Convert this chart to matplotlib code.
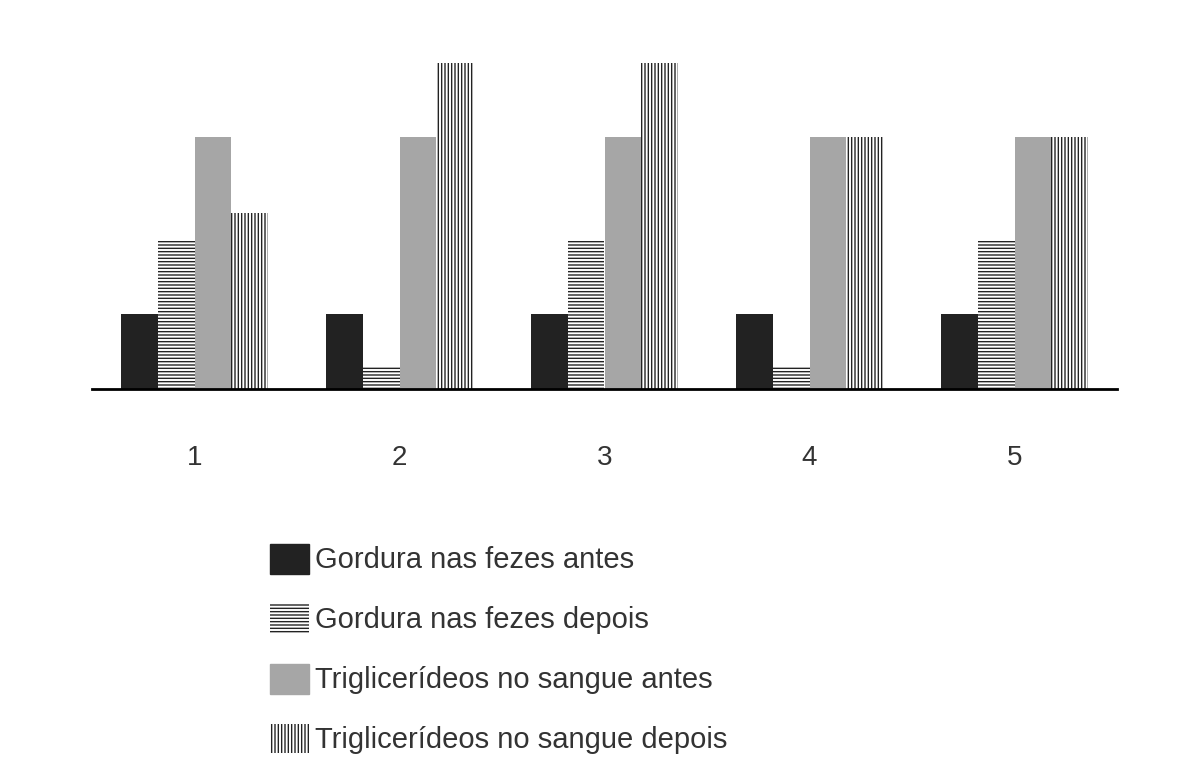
import matplotlib
matplotlib.use('Agg')
import matplotlib.pyplot as plt
import numpy as np
from matplotlib.patches import Patch

groups = ['1', '2', '3', '4', '5']
fat_before = [1.0, 1.0, 1.0, 1.0, 1.0]
fat_after = [1.98, 0.3, 1.98, 0.3, 1.98]
tg_before = [3.36, 3.36, 3.36, 3.36, 3.36]
tg_after = [2.35, 4.35, 4.35, 3.36, 3.36]
labels = ['Gordura nas fezes antes', 'Gordura nas fezes depois',
          'Triglicerídeos no sangue antes', 'Triglicerídeos no sangue depois']

plt.rcParams['font.family'] = ['Liberation Sans', 'DejaVu Sans']
plt.rcParams['hatch.linewidth'] = 1.0

fig = plt.figure(figsize=(12, 7.84), dpi=100)
ax = fig.add_axes([92/1200, 1 - 389/784, 1025/1200, 340/784])

x = np.arange(len(groups))
w = 0.18
styles = [dict(color='#222222'),
          dict(facecolor='white', edgecolor='#222222', hatch='-----', linewidth=0),
          dict(color='#a6a6a6'),
          dict(facecolor='white', edgecolor='#222222', hatch='|||||', linewidth=0)]
series = [fat_before, fat_after, tg_before, tg_after]
for i, (vals, st) in enumerate(zip(series, styles)):
    ax.bar(x + (i - 1.5) * w, vals, w, **st)

ax.set_xlim(-0.5, 4.5)
ax.set_ylim(0, 4.35 * 340 / 326)
for s in ['top', 'right', 'left']:
    ax.spines[s].set_visible(False)
ax.spines['bottom'].set_linewidth(2)
ax.set_yticks([])
ax.set_xticks(x)
ax.set_xticklabels(groups, fontsize=20, color='#333333')
ax.tick_params(axis='x', length=0, pad=40)

handles = [Patch(label=l, **st) for l, st in zip(labels, styles)]
fig.legend(handles=handles, loc='upper left', bbox_to_anchor=(0.203, 0.34),
           frameon=False, fontsize=21, labelspacing=1.0, handlelength=1.35,
           handleheight=1.2, handletextpad=0.2, labelcolor='#333333')

fig.savefig('out.png', dpi=100)
